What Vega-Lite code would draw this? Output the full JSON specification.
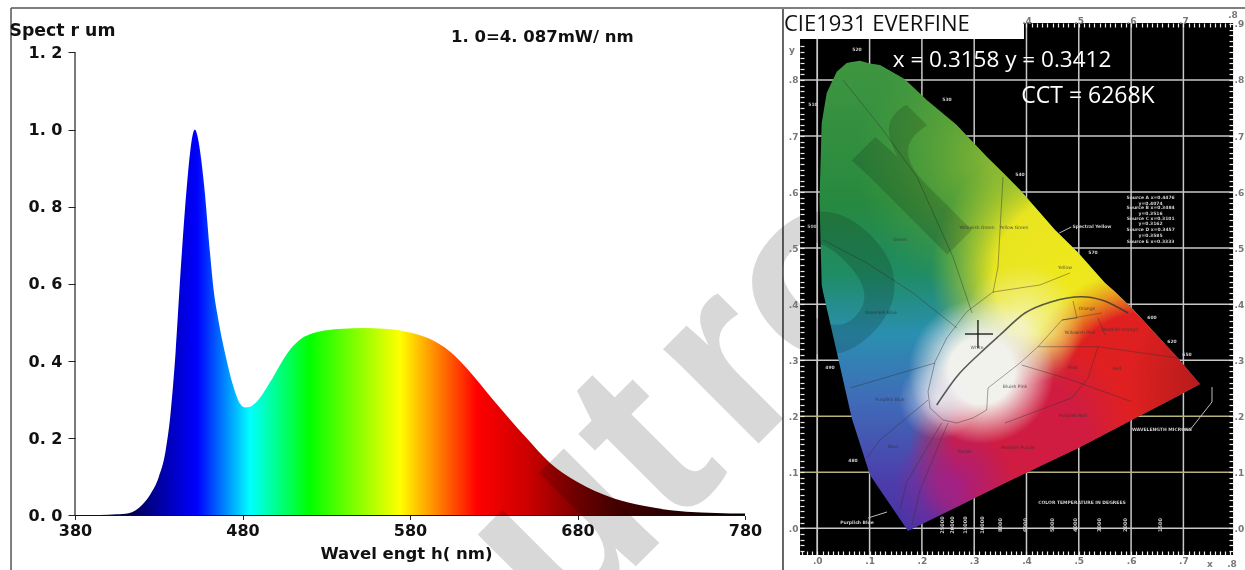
{"$schema":"https://vega.github.io/schema/vega-lite/v6.json","width":1245,"height":570,"autosize":{"type":"none"},"padding":0,"background":"white","config":{"view":{"stroke":null}},
"data":{"values":[{"k":1}]},
"datasets":{
"spectrum":[{"nm":380,"v":0},{"nm":395,"v":0.001},{"nm":405,"v":0.003},{"nm":412,"v":0.006},{"nm":416,"v":0.013},{"nm":420,"v":0.027},{"nm":425,"v":0.055},{"nm":430,"v":0.1},{"nm":434,"v":0.165},{"nm":437,"v":0.262},{"nm":440,"v":0.42},{"nm":443,"v":0.63},{"nm":446.7,"v":0.85},{"nm":448.7,"v":0.94},{"nm":450.2,"v":0.985},{"nm":451.6,"v":1},{"nm":453,"v":0.985},{"nm":454.8,"v":0.94},{"nm":457.2,"v":0.85},{"nm":460.6,"v":0.68},{"nm":462.6,"v":0.59},{"nm":465.6,"v":0.506},{"nm":469.6,"v":0.42},{"nm":474.5,"v":0.335},{"nm":478.5,"v":0.29},{"nm":481.5,"v":0.28},{"nm":484.5,"v":0.282},{"nm":488.5,"v":0.295},{"nm":496.4,"v":0.345},{"nm":502.4,"v":0.39},{"nm":508.4,"v":0.43},{"nm":515,"v":0.458},{"nm":522,"v":0.472},{"nm":530,"v":0.48},{"nm":540,"v":0.484},{"nm":552,"v":0.486},{"nm":565,"v":0.484},{"nm":580,"v":0.474},{"nm":592,"v":0.457},{"nm":604,"v":0.424},{"nm":614.8,"v":0.377},{"nm":629.7,"v":0.299},{"nm":649.7,"v":0.2},{"nm":663.6,"v":0.136},{"nm":679.4,"v":0.088},{"nm":701.4,"v":0.045},{"nm":719.3,"v":0.025},{"nm":745,"v":0.01},{"nm":780,"v":0.005}],
"locus":[{"x":0.0042,"top":0.5858,"bot":0.5858},{"x":0.0084,"top":0.7232,"bot":0.4341},{"x":0.0109,"top":0.737,"bot":0.4222},{"x":0.018,"top":0.7767,"bot":0.393},{"x":0.0371,"top":0.8148,"bot":0.3151},{"x":0.0562,"top":0.8303,"bot":0.2364},{"x":0.0658,"top":0.832,"bot":0.1968},{"x":0.0816,"top":0.8344,"bot":0.1509},{"x":0.1008,"top":0.8295,"bot":0.0951},{"x":0.1199,"top":0.8267,"bot":0.0689},{"x":0.1644,"top":0.803,"bot":0.0076},{"x":0.1734,"top":0.796,"bot":-0.0048},{"x":0.2092,"top":0.7644,"bot":0.0117},{"x":0.2665,"top":0.7197,"bot":0.0381},{"x":0.3239,"top":0.6631,"bot":0.0646},{"x":0.3589,"top":0.631,"bot":0.0808},{"x":0.3876,"top":0.6037,"bot":0.0936},{"x":0.4545,"top":0.5323,"bot":0.1235},{"x":0.4985,"top":0.492,"bot":0.1433},{"x":0.5501,"top":0.4377,"bot":0.1685},{"x":0.5692,"top":0.4222,"bot":0.1778},{"x":0.6011,"top":0.3931,"bot":0.1933},{"x":0.6894,"top":0.3039,"bot":0.2362},{"x":0.7315,"top":0.2575,"bot":0.2575}],
"gridx":[{"x":0},{"x":0.1},{"x":0.2},{"x":0.3},{"x":0.4},{"x":0.5},{"x":0.6},{"x":0.7}],
"gridy":[{"y":0},{"y":0.3},{"y":0.4},{"y":0.5},{"y":0.6},{"y":0.7},{"y":0.8}],
"gridyy":[{"y":0.1},{"y":0.2}],
"lines":[
{"id":"oval","n":1,"x":0.5438,"y":0.3842},{"id":"oval","n":2,"x":0.4679,"y":0.3717},{"id":"oval","n":3,"x":0.422,"y":0.324},{"id":"oval","n":4,"x":0.3876,"y":0.295},{"id":"oval","n":5,"x":0.3264,"y":0.2504},{"id":"oval","n":6,"x":0.3239,"y":0.2111},{"id":"oval","n":7,"x":0.2977,"y":0.1968},{"id":"oval","n":8,"x":0.2665,"y":0.1879},{"id":"oval","n":9,"x":0.2403,"y":0.1933},{"id":"oval","n":10,"x":0.2155,"y":0.2147},{"id":"oval","n":11,"x":0.2117,"y":0.2438},{"id":"oval","n":12,"x":0.2251,"y":0.2973},{"id":"oval","n":13,"x":0.2474,"y":0.3396},{"id":"oval","n":14,"x":0.2857,"y":0.3865},{"id":"oval","n":15,"x":0.3359,"y":0.4217},{"id":"oval","n":16,"x":0.4258,"y":0.4342},{"id":"oval","n":17,"x":0.483,"y":0.4556},
{"id":"a","n":1,"x":0.0491,"y":0.8},{"id":"a","n":2,"x":0.1256,"y":0.7107},{"id":"a","n":3,"x":0.1906,"y":0.6269},{"id":"a","n":4,"x":0.2595,"y":0.4841},{"id":"a","n":5,"x":0.2958,"y":0.3842},
{"id":"b","n":1,"x":0.3551,"y":0.6269},{"id":"b","n":2,"x":0.3455,"y":0.4663},{"id":"b","n":3,"x":0.3359,"y":0.4199},
{"id":"c","n":1,"x":0.0109,"y":0.5144},{"id":"c","n":2,"x":0.095,"y":0.4734},{"id":"c","n":3,"x":0.183,"y":0.4199},{"id":"c","n":4,"x":0.2671,"y":0.3574},
{"id":"d","n":1,"x":0.0625,"y":0.2503},{"id":"d","n":2,"x":0.2251,"y":0.295},
{"id":"e","n":1,"x":0.2117,"y":0.2289},{"id":"e","n":2,"x":0.1199,"y":0.1576},{"id":"e","n":3,"x":0.0945,"y":0.1254},
{"id":"f","n":1,"x":0.2379,"y":0.1879},{"id":"f","n":2,"x":0.1709,"y":0.0826},{"id":"f","n":3,"x":0.1581,"y":0.0327},
{"id":"g","n":1,"x":0.25,"y":0.1879},{"id":"g","n":2,"x":0.1964,"y":0.0683},{"id":"g","n":3,"x":0.181,"y":0.0059},
{"id":"h","n":1,"x":0.422,"y":0.324},{"id":"h","n":2,"x":0.5367,"y":0.324},{"id":"h","n":3,"x":0.6897,"y":0.3039},
{"id":"i","n":1,"x":0.3908,"y":0.2914},{"id":"i","n":2,"x":0.4864,"y":0.2646},{"id":"i","n":3,"x":0.6011,"y":0.2259},
{"id":"j","n":1,"x":0.3589,"y":0.1879},{"id":"j","n":2,"x":0.4864,"y":0.2325},{"id":"j","n":3,"x":0.5176,"y":0.2682},{"id":"j","n":4,"x":0.5367,"y":0.324},
{"id":"k","n":1,"x":0.4889,"y":0.4056},{"id":"k","n":2,"x":0.4965,"y":0.3753},{"id":"k","n":3,"x":0.4679,"y":0.3717},
{"id":"l","n":1,"x":0.5367,"y":0.3753},{"id":"l","n":2,"x":0.5501,"y":0.3449}],
"planck":[{"n":1,"x":0.2283,"y":0.22},{"n":2,"x":0.2665,"y":0.2705},{"n":3,"x":0.3111,"y":0.3123},{"n":4,"x":0.3493,"y":0.3449},{"n":5,"x":0.3971,"y":0.3842},{"n":6,"x":0.4482,"y":0.4044},{"n":7,"x":0.5056,"y":0.4133},{"n":8,"x":0.5438,"y":0.4074},{"n":9,"x":0.5941,"y":0.3842}],
"leaders":[{"id":"w","n":1,"x":0.6973,"y":0.1754},{"id":"w","n":2,"x":0.7126,"y":0.1754},{"id":"w","n":3,"x":0.7547,"y":0.2254},{"id":"w","n":4,"x":0.7547,"y":0.2521},{"id":"p","n":1,"x":0.0969,"y":0.0184},{"id":"p","n":2,"x":0.1333,"y":0.0291},{"id":"s","n":1,"x":0.4856,"y":0.5377},{"id":"s","n":2,"x":0.4627,"y":0.5269}],
"darkLabels":[{"t":"Green","x":0.1581,"y":0.5144},{"t":"Yellowish Green","x":0.3054,"y":0.5359},{"t":"Yellow Green","x":0.3761,"y":0.5359},{"t":"Yellow","x":0.4736,"y":0.4645},{"t":"Orange","x":0.5157,"y":0.3913},{"t":"Yellowish Pink","x":0.5023,"y":0.3485},{"t":"Reddish Orange","x":0.5788,"y":0.3539},{"t":"Pink","x":0.4889,"y":0.286},{"t":"Red","x":0.5731,"y":0.2843},{"t":"Purplish Red","x":0.4889,"y":0.2004},{"t":"Reddish Purple","x":0.3838,"y":0.1433},{"t":"Purple","x":0.2824,"y":0.1362},{"t":"Bluish Pink","x":0.378,"y":0.2522},{"t":"Blue","x":0.1447,"y":0.1451},{"t":"Greenish Blue","x":0.1218,"y":0.3842},{"t":"Purplish Blue","x":0.139,"y":0.2289},{"t":"White","x":0.3054,"y":0.3217}],
"whiteLabels":[{"t":"Source A x=0.4476","x":0.6373,"y":0.5893},{"t":"y=0.4074","x":0.6373,"y":0.5787},{"t":"Source B x=0.3484","x":0.6373,"y":0.5716},{"t":"y=0.3516","x":0.6373,"y":0.5608},{"t":"Source C x=0.3101","x":0.6373,"y":0.5519},{"t":"y=0.3162","x":0.6373,"y":0.543},{"t":"Source D x=0.3457","x":0.6373,"y":0.5323},{"t":"y=0.3585","x":0.6373,"y":0.5216},{"t":"Source E x=0.3333","x":0.6373,"y":0.5109},{"t":"Spectral Yellow","x":0.5253,"y":0.5377},{"t":"WAVELENGTH MICRONS","x":0.6591,"y":0.1754},{"t":"COLOR TEMPERATURE IN DEGREES","x":0.5061,"y":0.0451},{"t":"Purplish Blue","x":0.0759,"y":0.0095},{"t":"520","x":0.0759,"y":0.8536},{"t":"530","x":0.248,"y":0.7643},{"t":"540","x":0.3876,"y":0.6304},{"t":"570","x":0.5272,"y":0.4913},{"t":"600","x":0.64,"y":0.3753},{"t":"620","x":0.6782,"y":0.3324},{"t":"650","x":0.7069,"y":0.3092},{"t":"510","x":-0.0082,"y":0.7553},{"t":"500","x":-0.0101,"y":0.5376},{"t":"490","x":0.0243,"y":0.2861},{"t":"480","x":0.0683,"y":0.1201}],
"axisNotes":[{"t":"y","x":-0.0484,"y":0.8535},{"t":"x","x":0.7509,"y":-0.064},{"t":".8","x":0.793,"y":-0.064},{"t":".8","x":0.7948,"y":0.9159}],
"temps":[{"t":"25000","x":0.2394},{"t":"20000","x":0.2585},{"t":"15000","x":0.2815},{"t":"10000","x":0.314},{"t":"8000","x":0.3493},{"t":"6000","x":0.3971},{"t":"5000","x":0.4487},{"t":"4000","x":0.4927},{"t":"3000","x":0.5386},{"t":"2000","x":0.5883},{"t":"1500","x":0.6552}]
},
"resolve":{"scale":{"x":"independent","y":"independent"}},
"layer":[
{"mark":{"type":"rule","color":"#222","strokeWidth":1.2},"encoding":{"x":{"datum":380,"type":"quantitative","scale":{"domain":[335.22,1078.5],"nice":false,"zero":false},"axis":{"orient":"bottom","offset":-54.5,"zindex":1,"values":[380,480,580,680,780],"grid":false,"domain":false,"tickSize":4,"tickColor":"#222","labelFont":"DejaVu Sans","labelFontWeight":"bold","labelFontSize":16,"labelColor":"#111","labelPadding":3,"labelOverlap":false,"labelFlush":false,"title":"Wavel engt h( nm)","titleFont":"DejaVu Sans","titleFontWeight":"bold","titleFontSize":16.5,"titleColor":"#111","titleX":406,"titleY":38,"titleBaseline":"middle","titleAlign":"center"}},
"y":{"datum":0,"type":"quantitative","scale":{"domain":[-0.1412,1.3355],"nice":false,"zero":false},"axis":{"orient":"left","offset":-75,"zindex":1,"values":[0,0.2,0.4,0.6,0.8,1,1.2],"grid":false,"domain":false,"tickSize":7,"tickColor":"#222","labelFont":"DejaVu Sans","labelFontWeight":"bold","labelFontSize":16,"labelColor":"#111","labelPadding":6,"labelOverlap":false,"labelFlush":false,"labelExpr":"replace(format(datum.value,'.1f'),'.','. ')","title":"Spect r um","titleFont":"DejaVu Sans","titleFontWeight":"bold","titleFontSize":17.3,"titleColor":"#111","titleAngle":0,"titleX":-66,"titleY":30,"titleAlign":"left","titleBaseline":"middle"}},"y2":{"datum":1.2}}},
{"layer":[
{"data":{"name":"spectrum"},"mark":{"type":"area","interpolate":"monotone","fill":{"gradient":"linear","x1":0,"y1":0,"x2":1,"y2":0,"stops":[{"offset":0,"color":"#000018"},{"offset":0.075,"color":"#000040"},{"offset":0.1,"color":"#000070"},{"offset":0.125,"color":"#0000a0"},{"offset":0.1625,"color":"#0000e0"},{"offset":0.1825,"color":"#0000ff"},{"offset":0.261,"color":"#00ffff"},{"offset":0.35,"color":"#00ff00"},{"offset":0.485,"color":"#ffff00"},{"offset":0.6,"color":"#ff0000"},{"offset":0.675,"color":"#cc0000"},{"offset":0.75,"color":"#800000"},{"offset":0.825,"color":"#400000"},{"offset":1,"color":"#000000"}]}},
"encoding":{"x":{"field":"nm","type":"quantitative","scale":{"domain":[335.22,1078.5],"nice":false,"zero":false},"axis":null},
"y":{"field":"v","type":"quantitative","stack":false,"scale":{"domain":[-0.1412,1.3355],"nice":false,"zero":false},"axis":null}}},
{"mark":{"type":"rule","color":"#111","strokeWidth":1.2},"encoding":{"x":{"datum":380,"type":"quantitative","scale":{"domain":[335.22,1078.5],"nice":false,"zero":false},"axis":null},"x2":{"datum":780},"y":{"datum":0,"type":"quantitative","scale":{"domain":[-0.1412,1.3355],"nice":false,"zero":false},"axis":null}}},
{"mark":{"type":"rule","color":"#555","strokeWidth":1.5},"encoding":{"x":{"datum":341.8,"type":"quantitative","scale":{"domain":[335.22,1078.5],"nice":false,"zero":false},"axis":null},"y":{"datum":-0.1412,"type":"quantitative","scale":{"domain":[-0.1412,1.3355],"nice":false,"zero":false},"axis":null},"y2":{"datum":1.3148}}},
{"mark":{"type":"rule","color":"#555","strokeWidth":1.5},"encoding":{"x":{"datum":341.8,"type":"quantitative","scale":{"domain":[335.22,1078.5],"nice":false,"zero":false},"axis":null},"x2":{"datum":1078.5},"y":{"datum":1.3148,"type":"quantitative","scale":{"domain":[-0.1412,1.3355],"nice":false,"zero":false},"axis":null}}},
{"mark":{"type":"text","text":"1. 0=4. 087mW/ nm","font":"DejaVu Sans","fontWeight":"bold","fontSize":16.5,"color":"#111","align":"center","baseline":"middle"},"encoding":{"x":{"datum":659,"type":"quantitative","scale":{"domain":[335.22,1078.5],"nice":false,"zero":false},"axis":null},"y":{"datum":1.24,"type":"quantitative","scale":{"domain":[-0.1412,1.3355],"nice":false,"zero":false},"axis":null}}}
]},
{"mark":{"type":"rect","color":"#000"},"encoding":{"x":{"datum":-0.033,"type":"quantitative","scale":{"domain":[-1.5627,0.8178],"nice":false,"zero":false},"axis":{"orient":"top","offset":-23,"zindex":1,"grid":false,"domain":false,"tickSize":-4,"tickColor":"#eee","tickWidth":1.2,"labelFont":"DejaVu Sans","labelFontWeight":"bold","labelFontSize":9,"labelColor":"#777","labelPadding":2,"labelOverlap":false,"labelFlush":false,"title":null,"labelExpr":"abs(datum.value*10-round(datum.value*10))<0.001 ? replace(format(datum.value,'.1f'),'0.','.') : ''","values":[0.4,0.41,0.42,0.43,0.44,0.45,0.46,0.47,0.48,0.49,0.5,0.51,0.52,0.53,0.54,0.55,0.56,0.57,0.58,0.59,0.6,0.61,0.62,0.63,0.64,0.65,0.66,0.67,0.68,0.69,0.7,0.71,0.72,0.73,0.74,0.75,0.76,0.77,0.78,0.79]}},"x2":{"datum":0.795},
"y":{"datum":-0.0476,"type":"quantitative","scale":{"domain":[-0.0744,0.9427],"nice":false,"zero":false},"axis":{"orient":"right","offset":-12,"zindex":1,"grid":false,"domain":false,"tickSize":-4,"tickColor":"#eee","tickWidth":1.2,"labelFont":"DejaVu Sans","labelFontWeight":"bold","labelFontSize":9,"labelColor":"#777","labelPadding":5,"labelOverlap":false,"labelFlush":false,"title":null,"labelExpr":"abs(datum.value*10-round(datum.value*10))<0.001 ? replace(format(datum.value,'.1f'),'0.','.') : ''","values":[-0.04,-0.03,-0.02,-0.01,0,0.01,0.02,0.03,0.04,0.05,0.06,0.07,0.08,0.09,0.1,0.11,0.12,0.13,0.14,0.15,0.16,0.17,0.18,0.19,0.2,0.21,0.22,0.23,0.24,0.25,0.26,0.27,0.28,0.29,0.3,0.31,0.32,0.33,0.34,0.35,0.36,0.37,0.38,0.39,0.4,0.41,0.42,0.43,0.44,0.45,0.46,0.47,0.48,0.49,0.5,0.51,0.52,0.53,0.54,0.55,0.56,0.57,0.58,0.59,0.6,0.61,0.62,0.63,0.64,0.65,0.66,0.67,0.68,0.69,0.7,0.71,0.72,0.73,0.74,0.75,0.76,0.77,0.78,0.79,0.8,0.81,0.82,0.83,0.84,0.85,0.86,0.87,0.88,0.89,0.9]}},"y2":{"datum":0.9017}}},
{"mark":{"type":"rule","color":"#c8c8c8","strokeWidth":1.5},"encoding":{"x":{"datum":0,"type":"quantitative","scale":{"domain":[-1.5627,0.8178],"nice":false,"zero":false},"axis":{"orient":"bottom","offset":-15,"zindex":1,"grid":false,"domain":false,"tickSize":-4,"tickColor":"#eee","tickWidth":1.2,"labelFont":"DejaVu Sans","labelFontWeight":"bold","labelFontSize":9,"labelColor":"#777","labelPadding":5,"labelOverlap":false,"labelFlush":false,"title":null,"labelExpr":"abs(datum.value*10-round(datum.value*10))<0.001 ? replace(format(datum.value,'.1f'),'0.','.') : ''","values":[-0.03,-0.02,-0.01,0,0.01,0.02,0.03,0.04,0.05,0.06,0.07,0.08,0.09,0.1,0.11,0.12,0.13,0.14,0.15,0.16,0.17,0.18,0.19,0.2,0.21,0.22,0.23,0.24,0.25,0.26,0.27,0.28,0.29,0.3,0.31,0.32,0.33,0.34,0.35,0.36,0.37,0.38,0.39,0.4,0.41,0.42,0.43,0.44,0.45,0.46,0.47,0.48,0.49,0.5,0.51,0.52,0.53,0.54,0.55,0.56,0.57,0.58,0.59,0.6,0.61,0.62,0.63,0.64,0.65,0.66,0.67,0.68,0.69,0.7,0.71,0.72,0.73,0.74,0.75,0.76,0.77,0.78,0.79]}},
"y":{"datum":-0.0476,"type":"quantitative","scale":{"domain":[-0.0744,0.9427],"nice":false,"zero":false},"axis":{"orient":"left","offset":-800,"zindex":1,"grid":false,"domain":false,"tickSize":-4,"tickColor":"#eee","tickWidth":1.2,"labelFont":"DejaVu Sans","labelFontWeight":"bold","labelFontSize":9,"labelColor":"#777","labelPadding":6,"labelOverlap":false,"labelFlush":false,"title":null,"labelExpr":"abs(datum.value*10-round(datum.value*10))<0.001 ? replace(format(datum.value,'.1f'),'0.','.') : ''","values":[-0.04,-0.03,-0.02,-0.01,0,0.01,0.02,0.03,0.04,0.05,0.06,0.07,0.08,0.09,0.1,0.11,0.12,0.13,0.14,0.15,0.16,0.17,0.18,0.19,0.2,0.21,0.22,0.23,0.24,0.25,0.26,0.27,0.28,0.29,0.3,0.31,0.32,0.33,0.34,0.35,0.36,0.37,0.38,0.39,0.4,0.41,0.42,0.43,0.44,0.45,0.46,0.47,0.48,0.49,0.5,0.51,0.52,0.53,0.54,0.55,0.56,0.57,0.58,0.59,0.6,0.61,0.62,0.63,0.64,0.65,0.66,0.67,0.68,0.69,0.7,0.71,0.72,0.73,0.74,0.75,0.76,0.77,0.78,0.79,0.8,0.81,0.82,0.83,0.84,0.85,0.86]}},"y2":{"datum":0.9017}}},
{"layer":[
{"data":{"name":"gridx"},"mark":{"type":"rule","color":"#c8c8c8","strokeWidth":1.5},"encoding":{"x":{"field":"x","type":"quantitative","scale":{"domain":[-1.5627,0.8178],"nice":false,"zero":false},"axis":null},"y":{"datum":-0.0476,"type":"quantitative","scale":{"domain":[-0.0744,0.9427],"nice":false,"zero":false},"axis":null},"y2":{"datum":0.9017}}},
{"data":{"name":"gridy"},"mark":{"type":"rule","color":"#c8c8c8","strokeWidth":1.5},"encoding":{"x":{"datum":-0.033,"type":"quantitative","scale":{"domain":[-1.5627,0.8178],"nice":false,"zero":false},"axis":null},"x2":{"datum":0.795},"y":{"field":"y","type":"quantitative","scale":{"domain":[-0.0744,0.9427],"nice":false,"zero":false},"axis":null}}},
{"data":{"name":"gridyy"},"mark":{"type":"rule","color":"#b4b47c","strokeWidth":1.5},"encoding":{"x":{"datum":-0.033,"type":"quantitative","scale":{"domain":[-1.5627,0.8178],"nice":false,"zero":false},"axis":null},"x2":{"datum":0.795},"y":{"field":"y","type":"quantitative","scale":{"domain":[-0.0744,0.9427],"nice":false,"zero":false},"axis":null}}},
{"data":{"name":"temps"},"mark":{"type":"text","color":"#ccc","font":"DejaVu Sans","fontWeight":"bold","fontSize":5,"angle":270,"align":"center","baseline":"middle"},"encoding":{"text":{"field":"t"},"x":{"field":"x","type":"quantitative","scale":{"domain":[-1.5627,0.8178],"nice":false,"zero":false},"axis":null},"y":{"datum":0.0059,"type":"quantitative","scale":{"domain":[-0.0744,0.9427],"nice":false,"zero":false},"axis":null}}},
{"data":{"name":"whiteLabels"},"mark":{"type":"text","color":"#ccc","font":"DejaVu Sans","fontWeight":"bold","fontSize":4.5,"align":"center","baseline":"middle"},"encoding":{"text":{"field":"t"},"x":{"field":"x","type":"quantitative","scale":{"domain":[-1.5627,0.8178],"nice":false,"zero":false},"axis":null},"y":{"field":"y","type":"quantitative","scale":{"domain":[-0.0744,0.9427],"nice":false,"zero":false},"axis":null}}},
{"data":{"name":"axisNotes"},"mark":{"type":"text","color":"#777","font":"DejaVu Sans","fontWeight":"bold","fontSize":9,"align":"center","baseline":"middle"},"encoding":{"text":{"field":"t"},"x":{"field":"x","type":"quantitative","scale":{"domain":[-1.5627,0.8178],"nice":false,"zero":false},"axis":null},"y":{"field":"y","type":"quantitative","scale":{"domain":[-0.0744,0.9427],"nice":false,"zero":false},"axis":null}}},
{"data":{"name":"leaders"},"mark":{"type":"line","color":"#bbb","strokeWidth":1},"encoding":{"detail":{"field":"id"},"order":{"field":"n"},"x":{"field":"x","type":"quantitative","scale":{"domain":[-1.5627,0.8178],"nice":false,"zero":false},"axis":null},"y":{"field":"y","type":"quantitative","scale":{"domain":[-0.0744,0.9427],"nice":false,"zero":false},"axis":null}}},
{"data":{"name":"locus"},"mark":{"type":"area","fill":{"gradient":"linear","x1":0,"y1":0,"x2":0,"y2":1,"stops":[{"offset":0,"color":"#3f963f"},{"offset":0.3,"color":"#27893f"},{"offset":0.45,"color":"#1f8c62"},{"offset":0.58,"color":"#2a8fb0"},{"offset":0.72,"color":"#3f6cb8"},{"offset":0.9,"color":"#4c3cab"},{"offset":1,"color":"#4a32a5"}]}},"encoding":{"x":{"field":"x","type":"quantitative","scale":{"domain":[-1.5627,0.8178],"nice":false,"zero":false},"axis":null},"y":{"field":"top","type":"quantitative","scale":{"domain":[-0.0744,0.9427],"nice":false,"zero":false},"axis":null},"y2":{"field":"bot"}}},
{"data":{"name":"locus"},"mark":{"type":"area","fill":{"gradient":"radial","x1":0.474,"y1":0.211,"r1":0,"x2":0.474,"y2":0.211,"r2":0.3,"stops":[{"offset":0,"color":"rgba(156,192,48,0.85)"},{"offset":1,"color":"rgba(96,170,53,0)"}]}},"encoding":{"x":{"field":"x","type":"quantitative","scale":{"domain":[-1.5627,0.8178],"nice":false,"zero":false},"axis":null},"y":{"field":"top","type":"quantitative","scale":{"domain":[-0.0744,0.9427],"nice":false,"zero":false},"axis":null},"y2":{"field":"bot"}}},
{"data":{"name":"locus"},"mark":{"type":"area","fill":{"gradient":"radial","x1":0.632,"y1":0.456,"r1":0,"x2":0.632,"y2":0.456,"r2":0.3,"stops":[{"offset":0,"color":"rgba(239,232,28,1)"},{"offset":0.55,"color":"rgba(232,228,32,1)"},{"offset":1,"color":"rgba(168,200,48,0)"}]}},"encoding":{"x":{"field":"x","type":"quantitative","scale":{"domain":[-1.5627,0.8178],"nice":false,"zero":false},"axis":null},"y":{"field":"top","type":"quantitative","scale":{"domain":[-0.0744,0.9427],"nice":false,"zero":false},"axis":null},"y2":{"field":"bot"}}},
{"data":{"name":"locus"},"mark":{"type":"area","fill":{"gradient":"radial","x1":0.79,"y1":0.711,"r1":0,"x2":0.79,"y2":0.711,"r2":0.27,"stops":[{"offset":0,"color":"rgba(224,32,32,1)"},{"offset":0.65,"color":"rgba(224,32,32,1)"},{"offset":1,"color":"rgba(235,110,30,0)"}]}},"encoding":{"x":{"field":"x","type":"quantitative","scale":{"domain":[-1.5627,0.8178],"nice":false,"zero":false},"axis":null},"y":{"field":"top","type":"quantitative","scale":{"domain":[-0.0744,0.9427],"nice":false,"zero":false},"axis":null},"y2":{"field":"bot"}}},
{"data":{"name":"locus"},"mark":{"type":"area","fill":{"gradient":"radial","x1":0.527,"y1":0.818,"r1":0,"x2":0.527,"y2":0.818,"r2":0.24,"stops":[{"offset":0,"color":"rgba(208,28,64,1)"},{"offset":0.6,"color":"rgba(208,28,64,1)"},{"offset":1,"color":"rgba(208,28,64,0)"}]}},"encoding":{"x":{"field":"x","type":"quantitative","scale":{"domain":[-1.5627,0.8178],"nice":false,"zero":false},"axis":null},"y":{"field":"top","type":"quantitative","scale":{"domain":[-0.0744,0.9427],"nice":false,"zero":false},"axis":null},"y2":{"field":"bot"}}},
{"data":{"name":"locus"},"mark":{"type":"area","fill":{"gradient":"radial","x1":0.382,"y1":0.903,"r1":0,"x2":0.382,"y2":0.903,"r2":0.13,"stops":[{"offset":0,"color":"rgba(160,32,140,0.9)"},{"offset":1,"color":"rgba(160,32,140,0)"}]}},"encoding":{"x":{"field":"x","type":"quantitative","scale":{"domain":[-1.5627,0.8178],"nice":false,"zero":false},"axis":null},"y":{"field":"top","type":"quantitative","scale":{"domain":[-0.0744,0.9427],"nice":false,"zero":false},"axis":null},"y2":{"field":"bot"}}},
{"data":{"name":"locus"},"mark":{"type":"area","fill":{"gradient":"radial","x1":1,"y1":0.688,"r1":0,"x2":1,"y2":0.688,"r2":0.25,"stops":[{"offset":0,"color":"rgba(144,24,24,0.85)"},{"offset":1,"color":"rgba(144,24,24,0)"}]}},"encoding":{"x":{"field":"x","type":"quantitative","scale":{"domain":[-1.5627,0.8178],"nice":false,"zero":false},"axis":null},"y":{"field":"top","type":"quantitative","scale":{"domain":[-0.0744,0.9427],"nice":false,"zero":false},"axis":null},"y2":{"field":"bot"}}},
{"data":{"name":"locus"},"mark":{"type":"area","fill":{"gradient":"radial","x1":0.527,"y1":0.562,"r1":0,"x2":0.527,"y2":0.562,"r2":0.13,"stops":[{"offset":0,"color":"rgba(246,246,192,0.9)"},{"offset":1,"color":"rgba(246,246,192,0)"}]}},"encoding":{"x":{"field":"x","type":"quantitative","scale":{"domain":[-1.5627,0.8178],"nice":false,"zero":false},"axis":null},"y":{"field":"top","type":"quantitative","scale":{"domain":[-0.0744,0.9427],"nice":false,"zero":false},"axis":null},"y2":{"field":"bot"}}},
{"data":{"name":"locus"},"mark":{"type":"area","fill":{"gradient":"radial","x1":0.44,"y1":0.66,"r1":0,"x2":0.44,"y2":0.66,"r2":0.155,"stops":[{"offset":0,"color":"rgba(242,242,236,1)"},{"offset":0.45,"color":"rgba(242,242,236,1)"},{"offset":1,"color":"rgba(242,242,236,0)"}]}},"encoding":{"x":{"field":"x","type":"quantitative","scale":{"domain":[-1.5627,0.8178],"nice":false,"zero":false},"axis":null},"y":{"field":"top","type":"quantitative","scale":{"domain":[-0.0744,0.9427],"nice":false,"zero":false},"axis":null},"y2":{"field":"bot"}}},
{"data":{"name":"locus"},"mark":{"type":"area","fill":{"gradient":"radial","x1":0.35,"y1":0.72,"r1":0,"x2":0.35,"y2":0.72,"r2":0.085,"stops":[{"offset":0,"color":"rgba(238,238,244,0.85)"},{"offset":1,"color":"rgba(238,238,244,0)"}]}},"encoding":{"x":{"field":"x","type":"quantitative","scale":{"domain":[-1.5627,0.8178],"nice":false,"zero":false},"axis":null},"y":{"field":"top","type":"quantitative","scale":{"domain":[-0.0744,0.9427],"nice":false,"zero":false},"axis":null},"y2":{"field":"bot"}}},
{"data":{"name":"lines"},"mark":{"type":"line","color":"#333","strokeWidth":0.8,"opacity":0.55},"encoding":{"detail":{"field":"id"},"order":{"field":"n"},"x":{"field":"x","type":"quantitative","scale":{"domain":[-1.5627,0.8178],"nice":false,"zero":false},"axis":null},"y":{"field":"y","type":"quantitative","scale":{"domain":[-0.0744,0.9427],"nice":false,"zero":false},"axis":null}}},
{"data":{"name":"planck"},"mark":{"type":"line","color":"#333","strokeWidth":1.6,"opacity":0.8,"interpolate":"monotone"},"encoding":{"order":{"field":"n"},"x":{"field":"x","type":"quantitative","scale":{"domain":[-1.5627,0.8178],"nice":false,"zero":false},"axis":null},"y":{"field":"y","type":"quantitative","scale":{"domain":[-0.0744,0.9427],"nice":false,"zero":false},"axis":null}}},
{"data":{"name":"darkLabels"},"mark":{"type":"text","color":"#333","font":"DejaVu Sans","fontSize":4.5,"opacity":0.8,"align":"center","baseline":"middle"},"encoding":{"text":{"field":"t"},"x":{"field":"x","type":"quantitative","scale":{"domain":[-1.5627,0.8178],"nice":false,"zero":false},"axis":null},"y":{"field":"y","type":"quantitative","scale":{"domain":[-0.0744,0.9427],"nice":false,"zero":false},"axis":null}}},
{"mark":{"type":"rule","color":"#111","strokeWidth":1.3},"encoding":{"x":{"datum":0.3072,"type":"quantitative","scale":{"domain":[-1.5627,0.8178],"nice":false,"zero":false},"axis":null},"y":{"datum":0.3717,"type":"quantitative","scale":{"domain":[-0.0744,0.9427],"nice":false,"zero":false},"axis":null},"y2":{"datum":0.3217}}},
{"mark":{"type":"rule","color":"#111","strokeWidth":1.3},"encoding":{"x":{"datum":0.2824,"type":"quantitative","scale":{"domain":[-1.5627,0.8178],"nice":false,"zero":false},"axis":null},"x2":{"datum":0.3359},"y":{"datum":0.3467,"type":"quantitative","scale":{"domain":[-0.0744,0.9427],"nice":false,"zero":false},"axis":null}}},
{"mark":{"type":"rect","color":"#fff"},"encoding":{"x":{"datum":-0.0656,"type":"quantitative","scale":{"domain":[-1.5627,0.8178],"nice":false,"zero":false},"axis":null},"x2":{"datum":0.3952},"y":{"datum":0.9267,"type":"quantitative","scale":{"domain":[-0.0744,0.9427],"nice":false,"zero":false},"axis":null},"y2":{"datum":0.8731}}},
{"mark":{"type":"rule","color":"#333","strokeWidth":1.5},"encoding":{"x":{"datum":-0.0656,"type":"quantitative","scale":{"domain":[-1.5627,0.8178],"nice":false,"zero":false},"axis":null},"y":{"datum":-0.0744,"type":"quantitative","scale":{"domain":[-0.0744,0.9427],"nice":false,"zero":false},"axis":null},"y2":{"datum":0.9267}}},
{"mark":{"type":"text","text":"CIE1931 EVERFINE","font":"Open Sans","fontSize":22,"color":"#111","align":"left","baseline":"middle"},"encoding":{"x":{"datum":-0.0637,"type":"quantitative","scale":{"domain":[-1.5627,0.8178],"nice":false,"zero":false},"axis":null},"y":{"datum":0.8999,"type":"quantitative","scale":{"domain":[-0.0744,0.9427],"nice":false,"zero":false},"axis":null}}},
{"mark":{"type":"text","text":"x = 0.3158 y = 0.3412","font":"Open Sans","fontSize":22.5,"color":"#fff","align":"center","baseline":"middle"},"encoding":{"x":{"datum":0.3532,"type":"quantitative","scale":{"domain":[-1.5627,0.8178],"nice":false,"zero":false},"axis":null},"y":{"datum":0.8357,"type":"quantitative","scale":{"domain":[-0.0744,0.9427],"nice":false,"zero":false},"axis":null}}},
{"mark":{"type":"text","text":"CCT = 6268K","font":"Open Sans","fontSize":23,"color":"#fff","align":"center","baseline":"middle"},"encoding":{"x":{"datum":0.5176,"type":"quantitative","scale":{"domain":[-1.5627,0.8178],"nice":false,"zero":false},"axis":null},"y":{"datum":0.7715,"type":"quantitative","scale":{"domain":[-0.0744,0.9427],"nice":false,"zero":false},"axis":null}}},
{"mark":{"type":"text","text":"ut","font":"Liberation Sans","fontWeight":"bold","fontSize":254,"color":"#d8d8d8","blend":"multiply","angle":315,"align":"left","baseline":"alphabetic"},"encoding":{"x":{"datum":-0.4893,"type":"quantitative","scale":{"domain":[-1.5627,0.8178],"nice":false,"zero":false},"axis":null},"y":{"datum":-0.2004,"type":"quantitative","scale":{"domain":[-0.0744,0.9427],"nice":false,"zero":false},"axis":null}}},
{"mark":{"type":"text","text":"ro","font":"Liberation Sans","fontWeight":"bold","fontSize":254,"color":"#d8d8d8","blend":"multiply","angle":315,"align":"left","baseline":"alphabetic"},"encoding":{"x":{"datum":-0.1363,"type":"quantitative","scale":{"domain":[-1.5627,0.8178],"nice":false,"zero":false},"axis":null},"y":{"datum":0.129,"type":"quantitative","scale":{"domain":[-0.0744,0.9427],"nice":false,"zero":false},"axis":null}}},
{"mark":{"type":"text","text":"r","font":"Liberation Sans","fontWeight":"bold","fontSize":254,"color":"#d8d8d8","blend":"multiply","angle":315,"align":"left","baseline":"alphabetic"},"encoding":{"x":{"datum":0.2247,"type":"quantitative","scale":{"domain":[-1.5627,0.8178],"nice":false,"zero":false},"axis":null},"y":{"datum":0.4657,"type":"quantitative","scale":{"domain":[-0.0744,0.9427],"nice":false,"zero":false},"axis":null}}}
]}
]}
